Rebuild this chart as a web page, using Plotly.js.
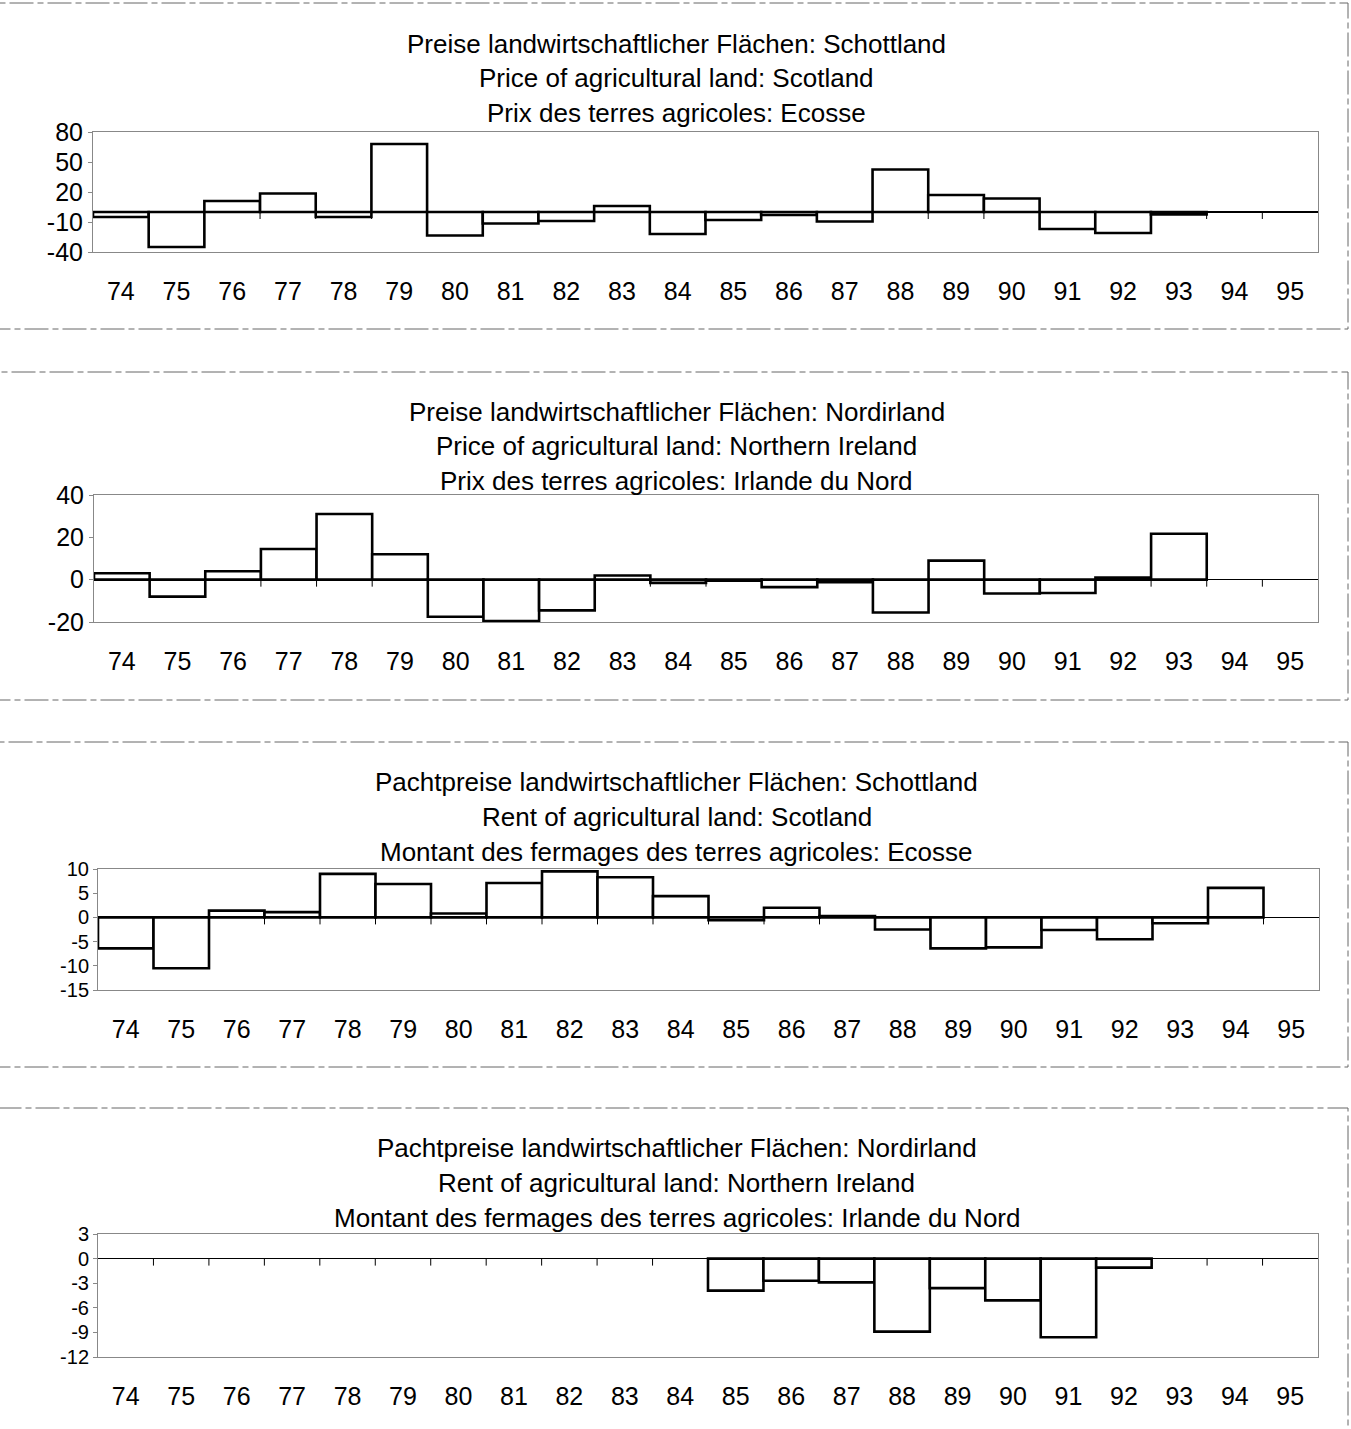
<!DOCTYPE html>
<html>
<head>
<meta charset="utf-8">
<script src="https://cdn.plot.ly/plotly-3.0.1.min.js"></script>
<style>html,body{margin:0;padding:0;background:#fff;}#chart{width:1351px;height:1429px;}</style>
</head>
<body>
<div id="chart"></div>
<script>
// ---- data ----
const years = ['74','75','76','77','78','79','80','81','82','83','84','85','86','87','88','89','90','91','92','93','94','95'];

const scotlandPrice = [-5, -35, 11, 18.5, -5, 68, -23.5, -11.5, -9, 6, -22, -8, -3, -9.5, 42.5, 17, 13.5, -17, -21, -2.5, null, null];
const nIrelandPrice = [3, -8, 4, 14.5, 31, 12, -17.5, -19.5, -14.5, 2, -1.5, -0.5, -3.5, -1.2, -15.5, 9, -6.5, -6.3, 1, 21.7, null, null];
const scotlandRent = [-6.4, -10.5, 1.4, 1.1, 9.0, 6.9, 0.8, 7.1, 9.5, 8.3, 4.4, -0.6, 2.0, 0.3, -2.5, -6.4, -6.2, -2.6, -4.5, -1.2, 6.1, null];
const nIrelandRent = [null, null, null, null, null, null, null, null, null, null, null, -3.9, -2.7, -2.9, -8.9, -3.6, -5.1, -9.6, -1.1, null, null, null];

// y tick labels
const yTicks1 = [-40, -10, 20, 50, 80];
const yTicks2 = [-20, 0, 20, 40];
const yTicks3 = [-15, -10, -5, 0, 5, 10];
const yTicks4 = [-12, -9, -6, -3, 0, 3];

const titles1 = ['Preise landwirtschaftlicher Flächen: Schottland', 'Price of agricultural land: Scotland', 'Prix des terres agricoles: Ecosse'];
const titles2 = ['Preise landwirtschaftlicher Flächen: Nordirland', 'Price of agricultural land: Northern Ireland', 'Prix des terres agricoles: Irlande du Nord'];
const titles3 = ['Pachtpreise landwirtschaftlicher Flächen: Schottland', 'Rent of agricultural land: Scotland', 'Montant des fermages des terres agricoles: Ecosse'];
const titles4 = ['Pachtpreise landwirtschaftlicher Flächen: Nordirland', 'Rent of agricultural land: Northern Ireland', 'Montant des fermages des terres agricoles: Irlande du Nord'];

// ---- layout helpers ----
const W = 1351, H = 1429;
const FONT = 'Arial, "Liberation Sans", sans-serif';
const FS_TICK = 25;
const FS_TITLE = 26;

const panels = [
  {vals: scotlandPrice, titles: titles1, ticks: yTicks1, yfs: 25, px: [93, 1318], py: [132, 252], ty: [44, 78, 113], frame: [3, 329]},
  {vals: nIrelandPrice, titles: titles2, ticks: yTicks2, yfs: 25, px: [94, 1318], py: [495, 622], ty: [412, 446, 481], frame: [372, 700]},
  {vals: scotlandRent, titles: titles3, ticks: yTicks3, yfs: 20, px: [98, 1319], py: [869, 990], ty: [782, 817, 852], frame: [742, 1067]},
  {vals: nIrelandRent, titles: titles4, ticks: yTicks4, yfs: 20, px: [98, 1318], py: [1234, 1357], ty: [1148, 1183, 1218], frame: [1108, 1460]}
];

const data = [];
const layout = {
  width: W, height: H,
  margin: {l: 0, r: 0, t: 0, b: 0},
  paper_bgcolor: '#fff', plot_bgcolor: '#fff',
  showlegend: false,
  bargap: 0,
  font: {family: FONT, size: FS_TICK, color: '#000'},
  annotations: [],
  shapes: []
};

panels.forEach((p, i) => {
  const n = i + 1;
  const xa = 'xaxis' + (n === 1 ? '' : n);
  const ya = 'yaxis' + (n === 1 ? '' : n);
  const xr = 'x' + (n === 1 ? '' : n);
  const yr = 'y' + (n === 1 ? '' : n);

  data.push({
    type: 'bar', x: years, y: p.vals, xaxis: xr, yaxis: yr,
    marker: {color: '#fff', line: {color: '#000', width: 2.6}},
    hoverinfo: 'x+y'
  });

  layout[xa] = {
    domain: [p.px[0] / W, p.px[1] / W],
    anchor: yr,
    type: 'category', categoryorder: 'array', categoryarray: years,
    range: [-0.5, years.length - 0.5],
    showgrid: false, zeroline: false,
    ticks: '', ticklabelstandoff: 17,
    showline: true, mirror: true, linecolor: '#888', linewidth: 1,
    tickfont: {family: FONT, size: FS_TICK, color: '#000'},
    fixedrange: true
  };
  layout[ya] = {
    domain: [1 - p.py[1] / H, 1 - p.py[0] / H],
    anchor: xr,
    range: [p.ticks[0], p.ticks[p.ticks.length - 1]],
    tickmode: 'array', tickvals: p.ticks, ticktext: p.ticks.map(v => String(v)),
    showgrid: false,
    zeroline: true, zerolinecolor: '#000', zerolinewidth: 1.2,
    ticks: 'outside', ticklen: 4, tickcolor: '#888',
    showline: true, mirror: true, linecolor: '#888', linewidth: 1,
    tickfont: {family: FONT, size: p.yfs, color: '#000'},
    fixedrange: true
  };

  // category-boundary tick marks on the zero line
  for (let k = 1; k < years.length; k++) {
    layout.shapes.push({
      type: 'line', xref: xr, yref: yr,
      ysizemode: 'pixel', yanchor: 0,
      x0: k - 0.5, x1: k - 0.5, y0: 0, y1: -7,
      line: {color: '#000', width: 1}
    });
  }

  // panel frame
  layout.shapes.push({
    type: 'rect', xref: 'paper', yref: 'paper',
    x0: -0.01, x1: 1348 / W, y0: 1 - p.frame[1] / H, y1: 1 - p.frame[0] / H,
    line: {color: '#666', width: 1, dash: '24px,4px,6px,4px'},
    fillcolor: 'rgba(0,0,0,0)', layer: 'below'
  });

  // three-line titles
  p.titles.forEach((t, j) => {
    layout.annotations.push({
      text: t, xref: 'paper', yref: 'paper',
      x: 677 / W, y: 1 - p.ty[j] / H,
      xanchor: 'center', yanchor: 'middle', showarrow: false,
      font: {family: FONT, size: FS_TITLE, color: '#000'}
    });
  });
});

Plotly.newPlot('chart', data, layout, {displayModeBar: false, staticPlot: true});
</script>
</body>
</html>
